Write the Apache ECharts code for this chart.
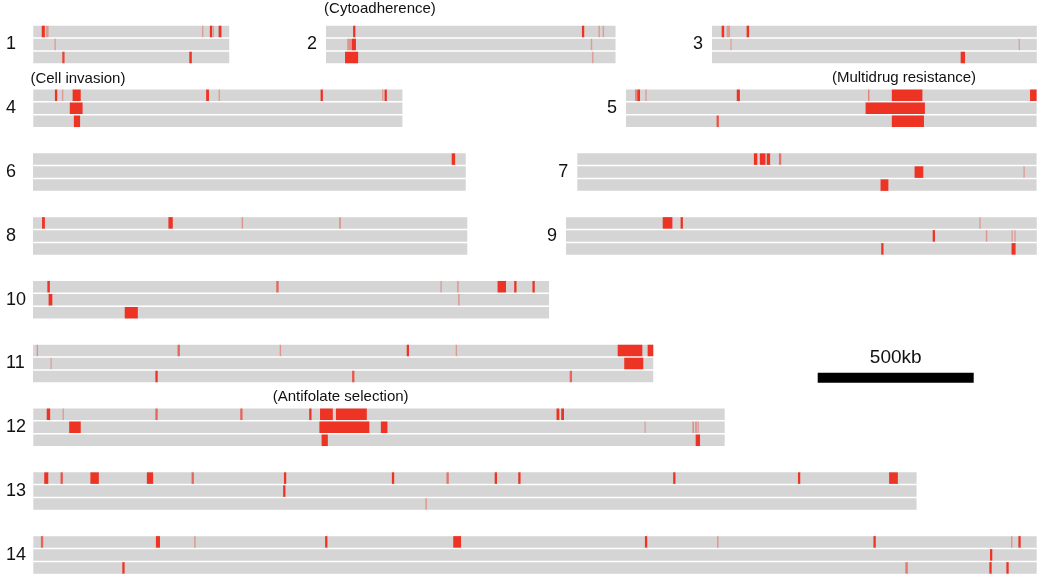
<!DOCTYPE html>
<html><head><meta charset="utf-8">
<script src="https://cdn.jsdelivr.net/npm/echarts@6/dist/echarts.min.js"></script>
<style>html,body{margin:0;padding:0;background:#fff}#c{width:1050px;height:588px}</style>
</head><body><div id="c"></div>
<script>
// ---------------- DATA ----------------
const chromNames = ['1','2','3','4','5','6','7','8','9','10','11','12','13','14'];
const chromLengthsKb = [628, 928, 1041, 1183, 1316, 1387, 1472, 1392, 1509, 1654, 1988, 2216, 2831, 3216];
const trackNames = ['A', 'B', 'C'];
// marks: [track, startKb, endKb, signal level (1 strong ... 0.3 weak)]
const marks1 = [[0,27,37,1],[0,40,49,0.35],[0,543,543,0.35],[0,566,573,1],[0,577,577,0.35],[0,594,603,1],
  [1,70,70,0.35],
  [2,94,99,0.9],[2,500,508,1]];
const marks2 = [[0,87,94,1],[0,821,827,1],[0,873,878,0.35],[0,887,891,0.35],
  [1,68,83,0.4],[1,83,96,1],[1,851,851,0.35],
  [2,61,103,1],[2,855,855,0.35]];
const marks3 = [[0,31,39,1],[0,47,58,0.35],[0,111,119,1],
  [1,61,61,0.3],[1,985,985,0.3],
  [2,797,811,1]];
const marks4 = [[0,70,76,1],[0,94,94,0.35],[0,126,152,1],[0,554,563,1],[0,596,596,0.35],[0,921,928,1],[0,1120,1120,0.35],[0,1127,1132,1],
  [1,117,158,1],
  [2,130,150,1]];
const marks5 = [[0,29,35,0.5],[0,36,45,1],[0,64,64,0.35],[0,355,365,1],[0,778,778,0.5],[0,852,950,1],[0,1295,1316,1],
  [1,768,958,1],
  [2,291,297,0.8],[2,852,955,1]];
const marks6 = [[0,1342,1353,1]];
const marks7 = [[0,566,577,1],[0,585,603,1],[0,607,618,1],[0,647,653,0.6],
  [1,1081,1109,1],[1,1432,1432,0.35],
  [2,972,997,1]];
const marks8 = [[0,29,38,1],[0,434,448,1],[0,671,671,0.4],[0,984,984,0.5]];
const marks9 = [[0,310,341,1],[0,368,374,1],[0,1327,1327,0.35],
  [1,1177,1181,1],[1,1348,1348,0.4],[1,1430,1430,0.35],[1,1439,1439,0.35],
  [2,1012,1016,1],[2,1428,1441,1]];
const marks10 = [[0,46,54,1],[0,781,786,0.7],[0,1308,1308,0.35],[0,1362,1362,0.4],[0,1489,1516,1],[0,1543,1549,1],[0,1602,1607,1],
  [1,50,62,1],[1,1365,1365,0.4],
  [2,294,336,1]];
const marks11 = [[0,14,14,0.4],[0,467,467,0.7],[0,793,793,0.4],[0,1199,1204,1],[0,1357,1357,0.35],[0,1874,1953,1],[0,1970,1988,1],
  [1,58,58,0.3],[1,1895,1956,1],
  [2,394,398,1],[2,1025,1028,0.8],[2,1724,1724,0.7]];
const marks12 = [[0,43,54,1],[0,96,96,0.35],[0,395,395,0.7],[0,667,667,0.7],[0,885,891,1],[0,919,960,1],[0,970,1069,1],[0,1677,1686,1],[0,1692,1701,1],
  [1,115,152,1],[1,917,1077,1],[1,1114,1135,1],[1,1961,1961,0.3],[1,2115,2115,0.5],[1,2124,2124,0.5],[1,2131,2131,0.35],
  [2,924,944,1],[2,2123,2137,1]];
const marks13 = [[0,35,48,1],[0,89,93,0.8],[0,183,210,1],[0,364,384,1],[0,511,511,0.7],[0,806,808,1],[0,1152,1154,1],[0,1328,1328,0.6],[0,1481,1484,1],[0,1557,1559,1],[0,2053,2056,1],[0,2453,2456,1],[0,2743,2771,1],
  [1,803,806,1],
  [2,1259,1259,0.4]];
const marks14 = [[0,28,28,0.7],[0,393,406,1],[0,518,518,0.4],[0,938,940,1],[0,1346,1371,1],[0,1963,1965,1],[0,2194,2194,0.4],[0,2695,2698,1],[0,3136,3136,0.4],[0,3160,3162,1],
  [1,3069,3071,1],
  [2,288,290,1],[2,2799,2799,0.6],[2,3067,3069,1],[2,3121,3124,1]];
const allMarks = [marks1,marks2,marks3,marks4,marks5,marks6,marks7,marks8,marks9,marks10,marks11,marks12,marks13,marks14];
// annotations: chromosome index, locus position (kb), label
const annotChrom = [1, 3, 4, 11];
const annotKb = [173, 143, 891, 985];
const annotText = ['(Cytoadherence)', '(Cell invasion)', '(Multidrug resistance)', '(Antifolate selection)'];
const scaleBarKb = 500;
const scaleBarLabel = '500kb';

// ---------------- LAYOUT / STYLE ----------------
const KB_PER_PX = 500 / 156;
const layoutLeft = [33.3, 326, 712, 33.3, 626, 33, 577.3, 33, 566, 33, 33, 33.3, 33.3, 33.3];
const layoutRow = [0,0,0,1,1,2,2,3,3,4,5,6,7,8];
const ROW_TOP0 = 25, ROW_STEP = 63.8, BAND = 13;
const annotDy = [16, 10.3, 11, 11];
const RED = '#ed3324', GRAY = '#d5d5d5';
const FONT = '"Liberation Sans", Arial, sans-serif';

function renderTrack(params, api) {
  const t = api.value(0);
  const p0 = api.coord([api.value(1), t]), p1 = api.coord([api.value(2), t]);
  const band = api.size([0, 1])[1];
  return {type:'rect', shape:{x:p0[0], y:p0[1]-band/2+0.75, width:p1[0]-p0[0], height:band-1.5}, style:{fill:GRAY}};
}
function renderMark(params, api) {
  const t = api.value(0), lvl = api.value(3);
  const p0 = api.coord([api.value(1), t]), p1 = api.coord([api.value(2), t]);
  const band = api.size([0, 1])[1];
  let x0 = p0[0], w = p1[0]-p0[0];
  const minW = lvl >= 0.6 ? 2.3 : 1.4;
  if (w < minW) { x0 = (p0[0]+p1[0])/2 - minW/2; w = minW; }
  return {type:'rect', shape:{x:x0, y:p0[1]-band/2+0.75, width:w, height:band-1.5}, style:{fill:RED, opacity:lvl}};
}

const grids = [], xAxes = [], yAxes = [], series = [], graphics = [];
chromNames.forEach((name, i) => {
  const len = chromLengthsKb[i];
  const top = ROW_TOP0 + ROW_STEP * layoutRow[i];
  const left = layoutLeft[i];
  grids.push({left: left, top: top, width: len / KB_PER_PX, height: BAND * 3});
  xAxes.push({gridIndex:i, type:'value', min:0, max:len, show:false});
  yAxes.push({gridIndex:i, type:'category', data:trackNames, inverse:true, show:false});
  series.push({type:'custom', xAxisIndex:i, yAxisIndex:i, silent:true, z:1,
    data: trackNames.map((t, k) => [k, 0, len]), encode:{x:[1,2], y:0}, renderItem: renderTrack});
  series.push({type:'custom', xAxisIndex:i, yAxisIndex:i, silent:true, z:2,
    data: allMarks[i], encode:{x:[1,2], y:0}, renderItem: renderMark});
  const firstCol = left < 40;
  graphics.push({type:'text', x: firstCol ? 6 : left - 9, y: top + BAND * 1.5,
    style:{text:name, font:'18px ' + FONT, fill:'#111', align: firstCol ? 'left' : 'right', verticalAlign:'middle'}});
});
// annotations
annotChrom.forEach((ci, j) => {
  series.push({type:'custom', xAxisIndex:ci, yAxisIndex:ci, silent:true, z:3,
    data: [[annotKb[j], 0]], encode:{x:0},
    renderItem: function (params, api) {
      const p = api.coord([api.value(0), 0]);
      const band = api.size([0, 1])[1];
      return {type:'text', x:p[0], y:p[1]-band/2-annotDy[j],
        style:{text:annotText[j], font:'15px ' + FONT, fill:'#111', align:'center', verticalAlign:'middle'}};
    }});
});
// scale bar
const sb = chromNames.length;
grids.push({left: 817.7, top: 372.7, width: scaleBarKb / KB_PER_PX, height: 10});
xAxes.push({gridIndex:sb, type:'value', min:0, max:scaleBarKb, show:false});
yAxes.push({gridIndex:sb, type:'category', data:['bar'], show:false});
series.push({type:'custom', xAxisIndex:sb, yAxisIndex:sb, silent:true, z:2,
  data: [[0, 0, scaleBarKb]], encode:{x:[1,2], y:0},
  renderItem: function (params, api) {
    const p0 = api.coord([api.value(1), 0]), p1 = api.coord([api.value(2), 0]);
    const band = api.size([0, 1])[1];
    return {type:'group', children:[
      {type:'rect', shape:{x:p0[0], y:p0[1]-band/2, width:p1[0]-p0[0], height:band}, style:{fill:'#000'}},
      {type:'text', x:(p0[0]+p1[0])/2, y:p0[1]-band/2-14.5,
        style:{text:scaleBarLabel, font:'19px ' + FONT, fill:'#111', align:'center', verticalAlign:'middle'}}
    ]};
  }});

const chart = echarts.init(document.getElementById('c'), null, {renderer:'canvas'});
chart.setOption({
  animation:false, backgroundColor:'#fff',
  grid:grids, xAxis:xAxes, yAxis:yAxes, series:series, graphic:graphics
});
</script></body></html>
